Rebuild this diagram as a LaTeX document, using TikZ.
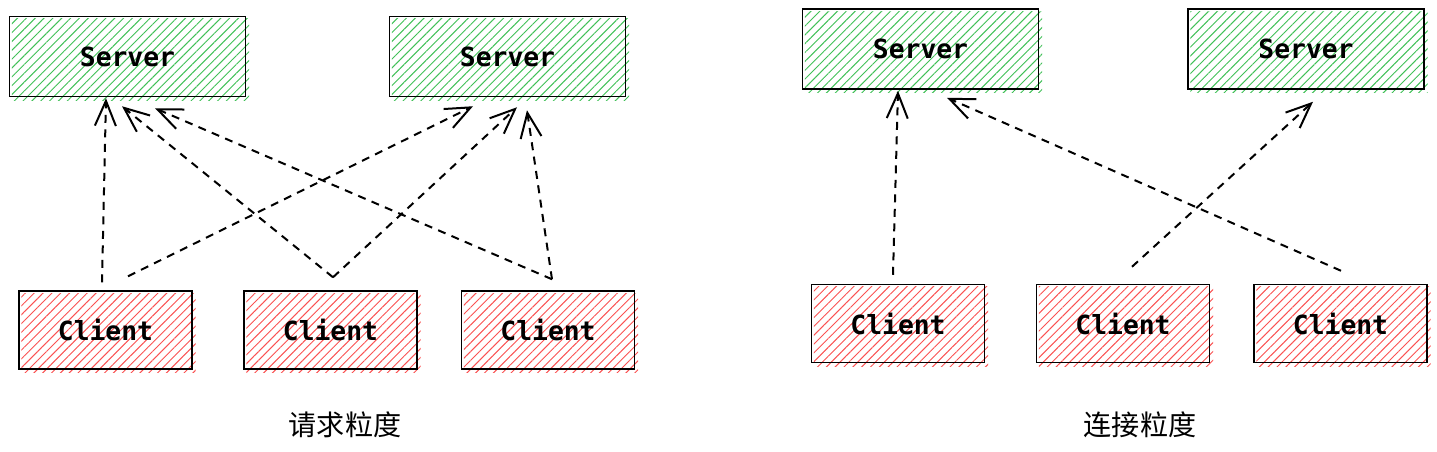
\documentclass[tikz,border=0pt]{standalone}
\usepackage{fontspec}
\setmonofont{DejaVu Sans Mono}
\newfontfamily\cjk{Noto Sans CJK SC}
\usetikzlibrary{positioning,calc,arrows.meta,patterns.meta,backgrounds}
\definecolor{hatchgreen}{HTML}{40C057}
\definecolor{hatchred}{HTML}{FA5252}
\newcommand{\hatchbox}[2]% node, colour
{\path[pattern={Lines[angle=45,distance=0.125cm,line width=0.55pt]},pattern color=#2]
  ($(#1.south west)+(3,3)$) rectangle ($(#1.north east)+(3,3)$);
}

\begin{document}
\begin{tikzpicture}[x=0.02cm,y=-0.02cm,line width=.03cm] % start of both pictures
\tikzstyle{server}=[draw,line width=.03cm,minimum width=4.72cm,minimum height=1.6cm,inner sep=0pt,font=\ttfamily\bfseries\fontsize{15}{18}\selectfont]
\tikzstyle{client}=[draw,line width=.03cm,minimum width=3.46cm,minimum height=1.56cm,inner sep=0pt,font=\ttfamily\bfseries\fontsize{15}{18}\selectfont]
\tikzstyle{link}=[line width=.04cm,dash pattern=on .16cm off .13cm,-{Straight Barb[length=.5cm,width=.42cm]}]
\useasboundingbox (0,0) rectangle (1437,451);

% left picture
\draw (127.5,56.5) node[server] (s1) {Server}; % server 1
\draw (507.5,56.5) node[server] (s2) {Server}; % server 2
\draw (105.5,330) node[client] (c1) {Client}; % client 1
\draw (330.5,330) node[client] (c2) {Client}; % client 2
\draw (548,330) node[client] (c3) {Client}; % client 3
\draw (345,425) node[font=\cjk\fontsize{16}{19}\selectfont] (reqlabel) {请求粒度}; % label

% right picture
\draw (920.5,49) node[server] (rs1) {Server}; % server 1
\draw (1306,49) node[server] (rs2) {Server}; % server 2
\draw (898,323.5) node[client] (rc1) {Client}; % client 1
\draw (1123,323.5) node[client] (rc2) {Client}; % client 2
\draw (1340.5,323.5) node[client] (rc3) {Client}; % client 3
\draw (1140,425) node[font=\cjk\fontsize{16}{19}\selectfont] (connlabel) {连接粒度}; % label

% hachure behind the boxes
\begin{scope}[on background layer]
\foreach \n in {s1,s2,rs1,rs2} {\hatchbox{\n}{hatchgreen}}
\foreach \n in {c1,c2,c3,rc1,rc2,rc3} {\hatchbox{\n}{hatchred}}
\end{scope}

% every client asks every server
\draw[link] ($(c1.north)+(-3.5,-8)$) -- ($(s1.south)+(-21.5,1)$);
\draw[link] ($(c1.north)+(22.5,-14)$) -- ($(s2.south)+(-34.5,9)$);
\draw[link] ($(c2.north)+(2.5,-13)$) -- ($(s1.south)+(-5.5,9)$);
\draw[link] ($(c2.north)+(2.5,-13)$) -- ($(s2.south)+(9.5,10)$);
\draw[link] ($(c3.north)+(4,-11)$) -- ($(s1.south)+(27.5,11)$);
\draw[link] ($(c3.north)+(4,-11)$) -- ($(s2.south)+(19.5,13)$);

% one server per client
\draw[link] ($(rc1.north)+(-5,-9)$) -- ($(rs1.south)+(-22.5,1)$);
\draw[link] ($(rc3.north)+(0.5,-13)$) -- ($(rs1.south)+(26.5,8)$);
\draw[link] ($(rc2.north)+(9,-17)$) -- ($(rs2.south)+(7,12)$);
\end{tikzpicture}
\end{document}
